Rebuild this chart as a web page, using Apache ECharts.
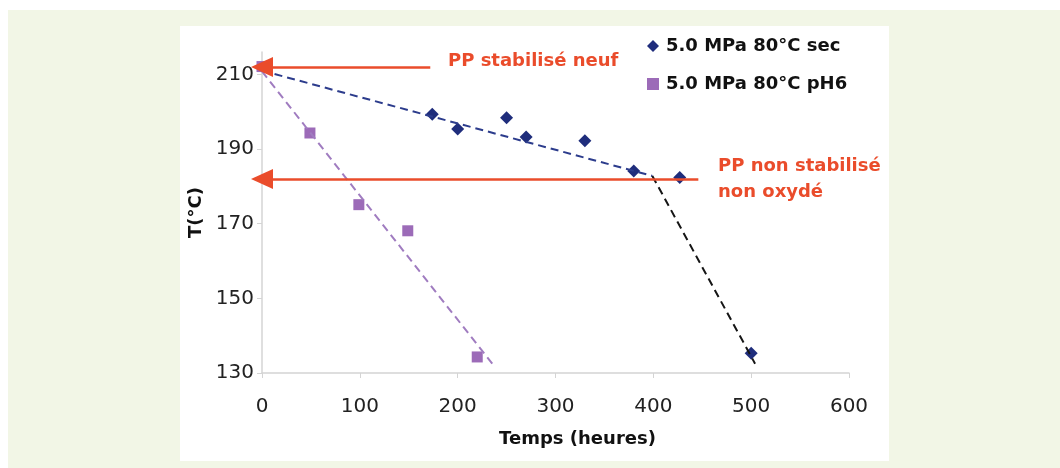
<!DOCTYPE html>
<html>
<head>
<meta charset="utf-8">
<script src="https://cdn.jsdelivr.net/npm/echarts@6/dist/echarts.min.js"></script>
<style>
    body{margin:0;background:#fff;}
    #bg{position:absolute;left:8px;top:10px;right:0;bottom:0;background:#f2f6e6;}
    #panel{position:absolute;left:180px;top:26px;width:709px;height:435px;background:#fff;}
    #chart{position:absolute;left:0;top:0;width:1060px;height:468px;}
</style>
</head>
<body>
<div id="bg"></div>
<div id="panel"></div>
<div id="chart"></div>
<script>
    // points mesures
    var sec_x = [174, 200, 250, 270, 330, 380, 427, 500];
    var sec_y = [199.3, 195.4, 198.4, 193.2, 192.2, 184.1, 182.4, 135.3];
    var ph6_x = [0, 49, 99, 149, 220];
    var ph6_y = [212.1, 194.3, 175.1, 168.1, 134.3];
    // droites de tendance
    var trend_sec_x = [0, 399];
    var trend_sec_y = [211, 182.8];
    var trend_end_x = [399, 504];
    var trend_end_y = [182.8, 132.5];
    var trend_ph6_x = [0, 236];
    var trend_ph6_y = [210.8, 132.3];
    // fleches
    var arrow_neuf = [[0, 212], [172, 212]];
    var arrow_non = [[0, 182], [446, 182]];
    var x_ticks = [0, 100, 200, 300, 400, 500, 600];
    var y_ticks = [130, 150, 170, 190, 210];

    var red = '#ea4c2b';
    var font = 'DejaVu Sans, sans-serif';

    function pairs(xs, ys){
        var out = [];
        for(var i=0;i<xs.length;i++){
            out.push([xs[i], ys[i]]);
        }
        return out;
    }
    function arrow(pts){
        return {
            type:'line',
            data:[],
            silent:true,
            markLine:{
                silent:true,
                symbol:['triangle','none'],
                symbolSize:[20,22],
                label:{show:false},
                lineStyle:{color:red,width:2.5,type:'solid'},
                data:[[{coord:pts[0]},{coord:pts[1]}]]
            }
        };
    }

    var chart = echarts.init(document.getElementById('chart'));
    chart.setOption({
        animation:false,
        textStyle:{fontFamily:font},
        grid:{left:262,right:211,top:52,bottom:95},
        legend:{
            left:642,
            top:32,
            orient:'vertical',
            itemGap:20,
            itemWidth:12,
            itemHeight:12,
            textStyle:{fontSize:18,fontWeight:'bold',color:'#111',fontFamily:font,padding:[0,0,0,2]},
            data:[
                {name:'5.0 MPa 80°C sec',icon:'diamond'},
                {name:'5.0 MPa 80°C pH6',icon:'rect'}
            ]
        },
        xAxis:{
            type:'value',
            min:x_ticks[0],
            max:x_ticks[x_ticks.length-1],
            interval:100,
            name:'Temps (heures)',
            nameLocation:'middle',
            nameGap:57,
            nameTextStyle:{fontSize:18,fontWeight:'bold',color:'#111',padding:[0,0,0,44]},
            axisLine:{lineStyle:{color:'#d4d4d4',width:1.5}},
            axisTick:{show:true,length:5,lineStyle:{color:'#d4d4d4'}},
            axisLabel:{fontSize:20,color:'#222',margin:24},
            splitLine:{show:false}
        },
        yAxis:{
            type:'value',
            min:y_ticks[0],
            max:216,
            interval:20,
            name:'T(°C)',
            nameLocation:'middle',
            nameGap:55,
            nameTextStyle:{fontSize:18,fontWeight:'bold',color:'#111'},
            axisLine:{show:true,lineStyle:{color:'#d4d4d4',width:1.5}},
            axisTick:{show:true,length:5,lineStyle:{color:'#d4d4d4'}},
            axisLabel:{
                fontSize:20,color:'#222',margin:8,showMaxLabel:false,
                formatter:function(v){return y_ticks.indexOf(v)>=0 ? v : '';}
            },
            splitLine:{show:false}
        },
        series:[
            {
                name:'trend_ph6',
                type:'line',
                data:pairs(trend_ph6_x, trend_ph6_y),
                showSymbol:false,
                silent:true,
                lineStyle:{color:'#a07cc0',width:2,type:[8,5]}
            },
            {
                name:'trend_sec',
                type:'line',
                data:pairs(trend_sec_x, trend_sec_y),
                showSymbol:false,
                silent:true,
                lineStyle:{color:'#2c3c8c',width:2,type:[8,5]}
            },
            {
                name:'trend_end',
                type:'line',
                data:pairs(trend_end_x, trend_end_y),
                showSymbol:false,
                silent:true,
                lineStyle:{color:'#151515',width:2,type:[8,5]}
            },
            arrow(arrow_neuf),
            arrow(arrow_non),
            {
                name:'5.0 MPa 80°C sec',
                type:'scatter',
                symbol:'diamond',
                symbolSize:13,
                itemStyle:{color:'#1f2d7c',opacity:1},
                data:pairs(sec_x, sec_y)
            },
            {
                name:'5.0 MPa 80°C pH6',
                type:'scatter',
                symbol:'rect',
                symbolSize:11,
                itemStyle:{color:'#9c6bb8',opacity:1},
                data:pairs(ph6_x, ph6_y)
            }
        ],
        graphic:[
            {type:'text',left:448,top:52,style:{text:'PP stabilisé neuf',fill:red,font:'bold 18px '+font}},
            {type:'text',left:718,top:153,style:{text:'PP non stabilisé\nnon oxydé',fill:red,font:'bold 18px '+font,lineHeight:26}}
        ]
    });
</script>
</body>
</html>
